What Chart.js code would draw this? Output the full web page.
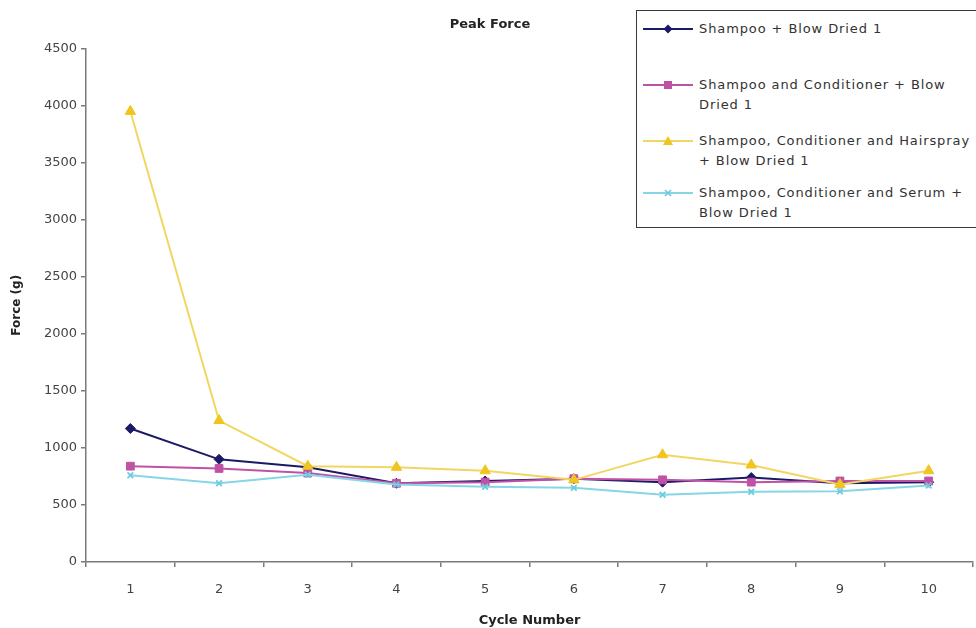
<!DOCTYPE html>
<html>
<head>
<meta charset="utf-8">
<script src="https://cdn.jsdelivr.net/npm/chart.js@4.4.1/dist/chart.umd.min.js"></script>
<style>
  html, body { margin: 0; padding: 0; background: #fff; overflow: hidden; }
  #wrap { position: relative; width: 976px; height: 628px; overflow: hidden; }
  #chart { position: absolute; left: 0; top: 0; }
  #legend {
    position: absolute; left: 636px; top: 10px; width: 380px; height: 216px;
    border: 1px solid #3a3a3a; background: #fff;
    font-family: "DejaVu Sans", Arial, sans-serif; font-size: 13px; letter-spacing: 0.9px; color: #333;
  }
  .item { position: absolute; left: 0; }
  .item svg { position: absolute; left: 6px; top: 0; overflow: visible; }
  .item .txt { position: absolute; left: 62px; top: -10px; line-height: 20px; white-space: nowrap; }
</style>
</head>
<body>
<div id="wrap">
  <canvas id="chart" width="980" height="628"></canvas>
  <div id="legend"></div>
</div>
<script>
// catégories (cycles)
var cycles = ['1', '2', '3', '4', '5', '6', '7', '8', '9', '10'];

// valeurs (g)
var shampoo = [1170, 900, 830, 690, 710, 730, 700, 740, 690, 700];
var conditioner = [840, 820, 780, 690, 700, 730, 720, 700, 710, 710];
var hairspray = [3950, 1240, 840, 830, 800, 720, 940, 850, 680, 800];
var serum = [760, 690, 765, 680, 660, 650, 590, 615, 620, 670];

var seriesNames = [
  'Shampoo + Blow Dried 1',
  'Shampoo and Conditioner + Blow Dried 1',
  'Shampoo, Conditioner and Hairspray + Blow Dried 1',
  'Shampoo, Conditioner and Serum + Blow Dried 1'
];
var legendLines = [
  ['Shampoo + Blow Dried 1'],
  ['Shampoo and Conditioner + Blow', 'Dried 1'],
  ['Shampoo, Conditioner and Hairspray', '+ Blow Dried 1'],
  ['Shampoo, Conditioner and Serum +', 'Blow Dried 1']
];
var yTicks = [0, 500, 1000, 1500, 2000, 2500, 3000, 3500, 4000, 4500];

var lineColors = ['#1c1a66', '#c052a6', '#f2d662', '#86d6e6'];
var markColors = ['#1c1a66', '#c052a6', '#f0c51e', '#6ccadf'];
var markStyles = ['rectRot', 'rect', 'triangle', 'crossRot'];
var markSizes = [5, 5.5, 6, 4];

var font = 'DejaVu Sans';

var ctx = document.getElementById('chart').getContext('2d');
var allData = [shampoo, conditioner, hairspray, serum];

var datasets = allData.map(function(d, i) {
  return {
    label: seriesNames[i],
    data: d,
    borderColor: lineColors[i],
    backgroundColor: markColors[i],
    pointBorderColor: markColors[i],
    pointBackgroundColor: markColors[i],
    pointStyle: markStyles[i],
    pointRadius: markSizes[i],
    pointBorderWidth: i === 3 ? 1.8 : 1,
    borderWidth: 2,
    tension: 0,
    order: 4 - i
  };
});

var chart = new Chart(ctx, {
  type: 'line',
  data: { labels: cycles, datasets: datasets },
  options: {
    responsive: false,
    animation: false,
    layout: { padding: 0 },
    plugins: {
      legend: { display: false },
      tooltip: { enabled: false },
      title: {
        display: true,
        text: 'Peak Force',
        color: '#222',
        font: { family: font, size: 13, weight: 'bold' },
        padding: { top: 17, bottom: 16 }
      }
    },
    scales: {
      x: {
        type: 'category',
        offset: true,
        border: { color: '#7a7a7a', width: 1.5 },
        grid: { offset: true, drawOnChartArea: false, drawTicks: true, tickLength: 5, color: '#7a7a7a', lineWidth: 1.5 },
        ticks: { color: '#444', font: { family: font, size: 13 }, padding: 15, maxRotation: 0 },
        title: { display: true, text: 'Cycle Number', color: '#222', font: { family: font, size: 13, weight: 'bold' }, padding: { top: 0, bottom: 0 } },
        afterFit: function(s) { s.height = 66; }
      },
      y: {
        min: 0,
        max: 4500,
        afterBuildTicks: function(s) { s.ticks = yTicks.map(function(v) { return { value: v }; }); },
        border: { color: '#7a7a7a', width: 1.5 },
        grid: { drawOnChartArea: false, drawTicks: true, tickLength: 5, color: '#7a7a7a', lineWidth: 1.5 },
        ticks: { color: '#444', font: { family: font, size: 13 }, padding: 4, callback: function(v) { return String(v); } },
        title: { display: true, text: 'Force (g)', color: '#222', font: { family: font, size: 12, weight: 'bold' }, padding: { top: 10, bottom: 0 } },
        afterFit: function(s) { s.width = 86; }
      }
    }
  }
});

// légende en HTML
var legend = document.getElementById('legend');
var rowTops = [18, 74, 130, 182];
legendLines.forEach(function(lines, i) {
  var item = document.createElement('div');
  item.className = 'item';
  item.style.top = rowTops[i] + 'px';
  var c = markColors[i];
  var svg = '<svg width="52" height="20" viewBox="0 0 52 20">' +
    '<line x1="0" y1="0" x2="50" y2="0" stroke="' + lineColors[i] + '" stroke-width="1.8"/>';
  if (markStyles[i] === 'rectRot') svg += '<polygon points="25,-4.5 29.5,0 25,4.5 20.5,0" fill="' + c + '"/>';
  if (markStyles[i] === 'rect') svg += '<rect x="21" y="-4" width="8" height="8" fill="' + c + '"/>';
  if (markStyles[i] === 'triangle') svg += '<polygon points="25,-5 30,4 20,4" fill="' + c + '"/>';
  if (markStyles[i] === 'crossRot') svg += '<path d="M22,-3 L28,3 M28,-3 L22,3" stroke="' + c + '" stroke-width="1.6"/>';
  svg += '</svg>';
  item.innerHTML = svg + '<div class="txt">' + lines.join('<br>') + '</div>';
  legend.appendChild(item);
});
</script>
</body>
</html>
